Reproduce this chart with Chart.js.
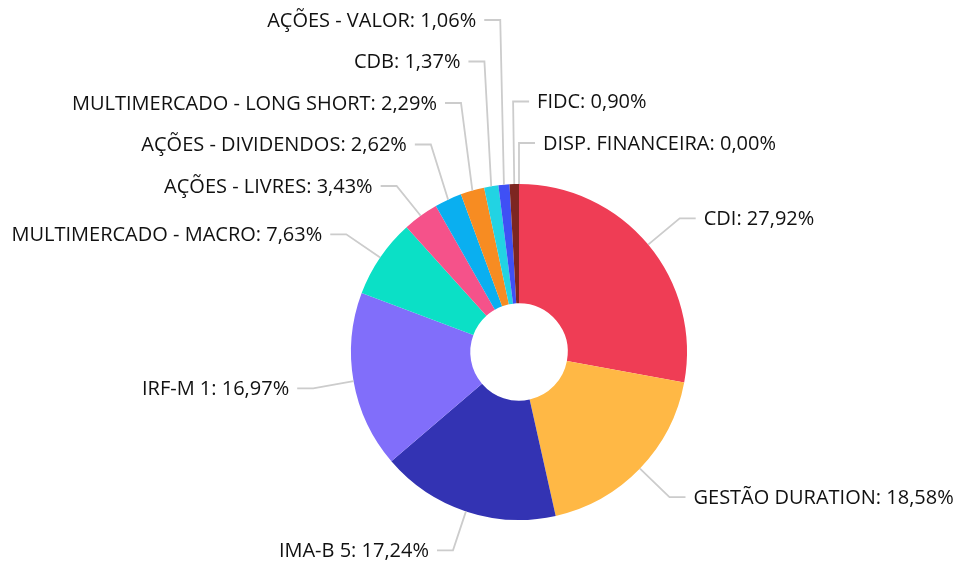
<!DOCTYPE html>
<html>
<head>
<meta charset="utf-8">
<script src="https://cdn.jsdelivr.net/npm/chart.js@4.4.0/dist/chart.umd.min.js"></script>
<style>
  html, body { margin: 0; padding: 0; background: #fff; }
  #wrap { width: 956px; height: 562px; position: relative; }
</style>
</head>
<body>
<div id="wrap"><canvas id="pieChart"></canvas></div>
<script>
// --- dados ---
const categories = ['CDI', 'GESTÃO DURATION', 'IMA-B 5', 'IRF-M 1', 'MULTIMERCADO - MACRO', 'AÇÕES - LIVRES',
    'AÇÕES - DIVIDENDOS', 'MULTIMERCADO - LONG SHORT', 'CDB', 'AÇÕES - VALOR', 'FIDC', 'DISP. FINANCEIRA'];
const percents = [27.92, 18.58, 17.24, 16.97, 7.63, 3.43, 2.62, 2.29, 1.37, 1.06, 0.90, 0.00];
const sliceColors = ['#ef3d55', '#ffb845', '#3333b3', '#816efa', '#0be0c6', '#f5528a',
    '#0aaff0', '#f78c22', '#22d3e3', '#3f50f5', '#7d2621', '#999999'];

const LEN1 = 41;      // primeiro segmento da linha guia
const LEN2 = 16;      // segmento horizontal
const TEXT_GAP = 8;
const ROW_GAP = 41.5; // distancia minima entre rotulos
const TOP_LIMIT = 20;

function fmt(v) {
    return v.toFixed(2).replace('.', ',') + '%';
}

// --- plugin de rotulos externos com linha guia ---
const outerLabels = {
    id: 'outerLabels',
    afterDraw(chart) {
        const ctx = chart.ctx;
        const arcs = chart.getDatasetMeta(0).data;
        const items = arcs.map(function (arc, i) {
            const mid = (arc.startAngle + arc.endAngle) / 2;
            const cos = Math.cos(mid), sin = Math.sin(mid);
            const r = arc.outerRadius;
            let t = (mid + Math.PI / 2) % (2 * Math.PI);
            if (t > Math.PI) t -= 2 * Math.PI;
            return {
                i: i,
                t: t,
                x0: arc.x + cos * r, y0: arc.y + sin * r,
                x1: arc.x + cos * (r + LEN1),
                y: arc.y + sin * (r + LEN1),
                right: cos > -0.05
            };
        });

        const bottom = chart.height - 11;
        [true, false].forEach(function (side) {
            const list = items.filter(it => it.right === side);
            // de cima para baixo
            list.sort((a, b) => side ? a.t - b.t : b.t - a.t);
            for (let k = list.length - 2; k >= 0; k--) {
                list[k].y = Math.min(list[k].y, list[k + 1].y - ROW_GAP);
            }
            for (let k = 0; k < list.length; k++) {
                const prev = k > 0 ? list[k - 1].y + ROW_GAP : TOP_LIMIT;
                list[k].y = Math.min(Math.max(list[k].y, prev, TOP_LIMIT), bottom);
            }
        });

        ctx.save();
        ctx.strokeStyle = '#cccccc';
        ctx.lineWidth = 1.8;
        ctx.fillStyle = '#111111';
        ctx.font = '20px "Open Sans", "Noto Sans", sans-serif';
        ctx.textBaseline = 'middle';
        items.forEach(function (it) {
            const dir = it.right ? 1 : -1;
            const x2 = it.x1 + dir * LEN2;
            ctx.beginPath();
            ctx.moveTo(it.x0, it.y0);
            ctx.lineTo(it.x1, it.y);
            ctx.lineTo(x2, it.y);
            ctx.stroke();
            ctx.textAlign = it.right ? 'left' : 'right';
            ctx.fillText(categories[it.i] + ': ' + fmt(percents[it.i]), x2 + dir * TEXT_GAP, it.y + 1);
        });
        ctx.restore();
    }
};

document.addEventListener('DOMContentLoaded', function () {
    const ctx = document.getElementById('pieChart');
    new Chart(ctx, {
        type: 'doughnut',
        data: {
            labels: categories,
            datasets: [{
                data: percents,
                backgroundColor: sliceColors,
                borderWidth: 0,
                hoverOffset: 0
            }]
        },
        options: {
            responsive: true,
            maintainAspectRatio: false,
            animation: false,
            cutout: '29%',
            layout: {
                padding: { top: 184, bottom: 42, left: 351, right: 269 }
            },
            plugins: {
                legend: { display: false },
                tooltip: { enabled: false }
            }
        },
        plugins: [outerLabels]
    });
});
</script>
</body>
</html>
